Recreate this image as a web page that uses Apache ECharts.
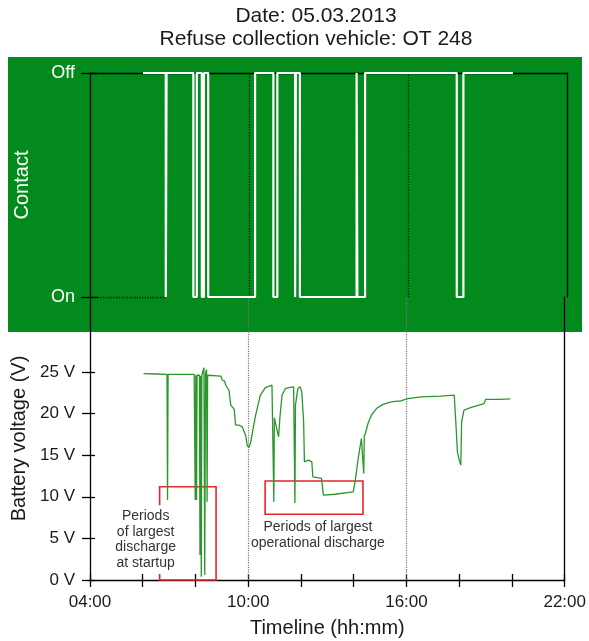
<!DOCTYPE html>
<html><head><meta charset="utf-8">
<script src="https://cdn.jsdelivr.net/npm/echarts@6/dist/echarts.min.js"></script>
<style>html,body{margin:0;padding:0;background:#fff}#c{width:589px;height:641px}</style>
</head><body><div id="c"></div>
<script>
const titleLines = ['Date: 05.03.2013', 'Refuse collection vehicle: OT 248'];
const contactName = 'Contact';
const contactStateLabels = ['On', 'Off'];
// contact transitions: [time (h), state] 1 = Off, 0 = On
const contactSteps = [
  [6.00,1],[6.86,0],[6.89,1],[7.90,0],[8.03,1],[8.22,0],[8.30,1],[8.46,0],
  [10.23,1],[10.92,0],[11.07,1],[11.74,0],[11.77,1],[11.92,0],[14.06,1],
  [14.09,0],[14.38,1],[17.84,0],[18.09,1],[19.96,1]
];
const voltageName = 'Battery voltage (V)';
// battery voltage: [time (h), volts]
const voltageReadings = [
  [6.03,24.8],[6.5,24.75],[6.92,24.7],[6.94,9.6],[6.96,24.7],[7.5,24.7],[7.95,24.7],
  [7.99,9.6],[8.01,24.6],[8.04,9.6],[8.06,24.6],[8.15,24.6],[8.17,3.0],[8.19,24.5],
  [8.22,0.4],[8.24,24.6],[8.32,25.5],[8.35,0.6],[8.38,24.8],[8.42,25.3],[8.44,9.4],
  [8.46,24.6],[8.52,24.6],[8.96,24.5],[9.02,24.0],[9.10,23.9],[9.15,23.4],[9.27,22.8],
  [9.34,21.0],[9.40,20.8],[9.47,20.5],[9.52,18.6],[9.65,18.6],[9.77,18.4],[9.90,17.4],
  [9.96,16.2],[10.02,15.9],[10.09,16.5],[10.14,17.4],[10.28,19.8],[10.46,22.2],[10.65,23.1],
  [10.90,23.4],[10.96,23.4],[10.97,9.4],[10.99,19.5],[11.03,18.9],[11.15,17.2],[11.20,19.5],
  [11.28,22.2],[11.41,23.0],[11.53,23.1],[11.72,23.2],[11.76,23.2],[11.77,9.25],[11.79,21.0],
  [11.88,23.0],[11.97,23.2],[12.03,22.6],[12.10,19.0],[12.13,14.2],[12.28,14.4],[12.41,14.2],
  [12.45,12.4],[12.78,12.2],[12.85,10.2],[13.29,10.3],[13.98,10.6],[14.06,12.0],[14.17,14.6],
  [14.29,17.0],[14.35,17.2],[14.38,12.8],[14.40,17.3],[14.44,17.6],[14.54,18.8],[14.67,19.8],
  [14.86,20.6],[15.11,21.1],[15.42,21.4],[15.67,21.5],[15.71,21.3],[15.75,21.5],[16.05,21.8],
  [16.55,22.0],[17.30,22.1],[17.81,22.2],[17.87,19.0],[17.93,15.4],[18.00,14.4],[18.06,13.8],
  [18.09,19.0],[18.18,20.4],[18.43,20.7],[18.94,21.2],[19.00,21.7],[19.56,21.7],[19.94,21.75]
];
const xName = 'Timeline (hh:mm)';
const xMin = 4, xMax = 22, xStep = 2;
const xLabelHours = [4, 10, 16, 22];
const markerHours = [10, 16];
const voltTicks = [0, 5, 10, 15, 20, 25];
const voltMax = 34;
// annotation boxes: [[t0, v0], [t1, v1]]
const boxStartup = [[6.64, 11.2], [8.78, 0]];
const boxOperational = [[10.64, 11.9], [14.35, 7.9]];
const noteStartup = {at: [6.11, 4.84], text: 'Periods\nof largest\ndischarge\nat startup'};
const noteOperational = {at: [12.64, 5.4], text: 'Periods of largest\noperational discharge'};

const FONT = '"Liberation Sans", Arial, sans-serif';
const GREEN = '#028a1c';
const fmtHour = v => (v < 10 ? '0' : '') + v + ':00';
const AX = {color: '#000', width: 1.3};

const chart = echarts.init(document.getElementById('c'), null, {renderer: 'canvas'});
const L = 90, R = 22;
chart.setOption({
  animation: false,
  textStyle: {fontFamily: FONT},
  graphic: [
    {type: 'rect', z: -10, silent: true, shape: {x: 8, y: 57, width: 574, height: 275}, style: {fill: GREEN}},
    {type: 'text', x: 316, y: 5, z: 10, style: {text: titleLines.join('\n'), font: '21px ' + FONT, fill: '#1a1a1a', align: 'center', textAlign: 'center', lineHeight: 23}}
  ],
  grid: [
    {left: L, right: R, top: 73, height: 224},
    {left: L, right: R, top: 297, bottom: 61}
  ],
  xAxis: [
    {gridIndex: 0, type: 'value', min: xMin, max: xMax, interval: xStep, position: 'top',
     axisLine: {show: true, onZero: false, lineStyle: AX}, axisTick: {show: false}, axisLabel: {show: false}, splitLine: {show: false}},
    {gridIndex: 1, type: 'value', min: xMin, max: xMax, interval: xStep, position: 'bottom',
     name: xName, nameLocation: 'middle', nameGap: 38, nameTextStyle: {fontSize: 20, color: '#1a1a1a', fontFamily: FONT},
     axisLine: {show: true, onZero: false, lineStyle: AX},
     axisTick: {show: true, length: 7, lineStyle: AX},
     axisLabel: {fontSize: 17, color: '#1a1a1a', margin: 14, formatter: v => xLabelHours.includes(v) ? fmtHour(v) : ''},
     splitLine: {show: false}},
    {gridIndex: 1, type: 'value', min: xMin, max: xMax, interval: xStep, position: 'bottom',
     axisLine: {show: false, onZero: false}, axisTick: {show: true, inside: true, length: 6, lineStyle: AX},
     axisLabel: {show: false}, splitLine: {show: false}}
  ],
  yAxis: [
    {gridIndex: 0, type: 'value', min: 0, max: 1, interval: 1, position: 'left',
     name: contactName, nameLocation: 'middle', nameGap: 58, nameTextStyle: {fontSize: 20, color: '#fff', fontFamily: FONT},
     axisLine: {show: true, onZero: false, lineStyle: AX},
     axisTick: {show: true, length: 9, lineStyle: AX},
     axisLabel: {fontSize: 18, color: '#fff', margin: 15, formatter: v => contactStateLabels[v]},
     splitLine: {show: false}},
    {gridIndex: 0, type: 'value', min: 0, max: 1, interval: 1, position: 'left',
     axisLine: {show: false, onZero: false}, axisTick: {show: true, inside: true, length: 8, lineStyle: AX},
     axisLabel: {show: false}, splitLine: {show: false}},
    {gridIndex: 0, type: 'value', min: 0, max: 1, position: 'right',
     axisLine: {show: true, onZero: false, lineStyle: AX}, axisTick: {show: false}, axisLabel: {show: false}, splitLine: {show: false}},
    {gridIndex: 1, type: 'value', min: 0, max: voltMax, interval: 5, position: 'left',
     name: voltageName, nameLocation: 'middle', nameGap: 58, nameTextStyle: {fontSize: 20, color: '#1a1a1a', fontFamily: FONT},
     axisLine: {show: true, onZero: false, lineStyle: AX},
     axisTick: {show: true, length: 8, customValues: voltTicks, lineStyle: AX},
     axisLabel: {fontSize: 17, color: '#1a1a1a', margin: 15, customValues: voltTicks, formatter: v => voltTicks.includes(v) ? v + ' V' : ''},
     splitLine: {show: false}},
    {gridIndex: 1, type: 'value', min: 0, max: voltMax, interval: 5, position: 'left',
     axisLine: {show: false, onZero: false}, axisTick: {show: true, inside: true, length: 5, customValues: voltTicks, lineStyle: AX},
     axisLabel: {show: false}, splitLine: {show: false}},
    {gridIndex: 1, type: 'value', min: 0, max: voltMax, position: 'right',
     axisLine: {show: true, onZero: false, lineStyle: AX}, axisTick: {show: false}, axisLabel: {show: false}, splitLine: {show: false}}
  ],
  series: [
    {type: 'line', name: contactName, xAxisIndex: 0, yAxisIndex: 0, data: contactSteps, step: 'end',
     symbol: 'none', lineStyle: {color: '#fff', width: 2.2}, z: 5,
     markLine: {silent: true, symbol: 'none', label: {show: false},
       lineStyle: {color: '#1a1a1a', type: 'dotted', width: 1.3},
       data: markerHours.map(h => ({xAxis: h})).concat([[{coord: [xMin, 0]}, {coord: [contactSteps[1][0], 0]}]])}
    },
    {type: 'line', name: voltageName, xAxisIndex: 1, yAxisIndex: 3, data: voltageReadings,
     symbol: 'none', lineStyle: {color: '#2a972a', width: 1.3}, z: 3,
     markLine: {silent: true, symbol: 'none', label: {show: false},
       lineStyle: {color: '#777', type: 'dotted', width: 1.2},
       data: markerHours.map(h => ({xAxis: h}))},
     markArea: {silent: true,
       itemStyle: {color: 'rgba(0,0,0,0)', borderColor: '#e3262b', borderWidth: 1.6},
       data: [boxStartup, boxOperational].map(b => [{coord: b[0]}, {coord: b[1]}])},
     markPoint: {silent: true, symbol: 'rect', symbolSize: 1, itemStyle: {color: 'rgba(0,0,0,0)'},
       label: {show: true, position: 'inside', color: '#333', fontSize: 14, lineHeight: 15.7, fontFamily: FONT, align: 'center'},
       data: [
         {coord: noteStartup.at, label: {formatter: noteStartup.text, backgroundColor: '#fff', padding: [3, 2]}},
         {coord: noteOperational.at, label: {formatter: noteOperational.text}}
       ]}
    }
  ]
});
</script></body></html>
